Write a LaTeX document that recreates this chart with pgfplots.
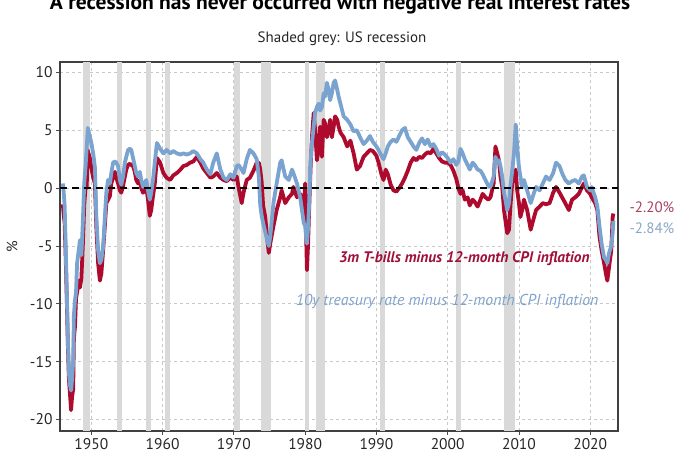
\documentclass[border=0pt]{standalone}
\usepackage{pgfplots}
\pgfplotsset{compat=1.18}
\usepackage{fontspec}
\setmainfont{PT Sans}
\definecolor{serred}{HTML}{AE0A2E}
\definecolor{serblue}{HTML}{7BA3CF}
\definecolor{labred}{HTML}{A0103A}
\definecolor{labblue}{HTML}{7FA3CC}
\definecolor{endred}{HTML}{A8405E}
\definecolor{endblue}{HTML}{8AA6C6}
\definecolor{band}{HTML}{D9D9D9}
\definecolor{gridc}{HTML}{C8C8C8}

\begin{document}
\begin{tikzpicture}[x=1pt,y=1pt]
\useasboundingbox (0,0) rectangle (700,470);
\node[anchor=base, font=\fontsize{21.5}{24}\selectfont\bfseries] at (340,460) {A recession has never occurred with negative real interest rates};
\node[anchor=base, font=\fontsize{15}{18}\selectfont, text=black!85] at (342,427) {Shaded grey: US recession};
\begin{axis}[
  at={(60pt,39pt)}, anchor=south west,
  scale only axis, width=558pt, height=369pt,
  xmin=1945.6, xmax=2023.9, ymin=-21, ymax=10.9,
  xtick={1950,1960,...,2020}, ytick={-20,-15,...,10},
  /pgf/number format/1000 sep={},
  /pgf/number format/assume math mode=true,
  tick label style={font=\fontsize{15.5}{18}\selectfont, text=black!85},
  tick align=outside, tick pos=left, major tick length=4pt,
  tick style={draw=black!70, line width=0.8pt},
  axis line style={draw=black!75, line width=1.2pt},
  grid=major, major grid style={draw=gridc, line width=0.8pt, dash pattern=on 3pt off 3pt},
  clip=true,
]
% recession bands
\addplot[fill=band, draw=none] coordinates {(1948.85,-21) (1948.85,10.9) (1949.85,10.9) (1949.85,-21)} -- cycle;
\addplot[fill=band, draw=none] coordinates {(1953.55,-21) (1953.55,10.9) (1954.35,10.9) (1954.35,-21)} -- cycle;
\addplot[fill=band, draw=none] coordinates {(1957.6,-21) (1957.6,10.9) (1958.3,10.9) (1958.3,-21)} -- cycle;
\addplot[fill=band, draw=none] coordinates {(1960.3,-21) (1960.3,10.9) (1961.1,10.9) (1961.1,-21)} -- cycle;
\addplot[fill=band, draw=none] coordinates {(1969.95,-21) (1969.95,10.9) (1970.9,10.9) (1970.9,-21)} -- cycle;
\addplot[fill=band, draw=none] coordinates {(1973.85,-21) (1973.85,10.9) (1975.2,10.9) (1975.2,-21)} -- cycle;
\addplot[fill=band, draw=none] coordinates {(1980.0,-21) (1980.0,10.9) (1980.5,10.9) (1980.5,-21)} -- cycle;
\addplot[fill=band, draw=none] coordinates {(1981.5,-21) (1981.5,10.9) (1982.85,10.9) (1982.85,-21)} -- cycle;
\addplot[fill=band, draw=none] coordinates {(1990.5,-21) (1990.5,10.9) (1991.2,10.9) (1991.2,-21)} -- cycle;
\addplot[fill=band, draw=none] coordinates {(2001.2,-21) (2001.2,10.9) (2001.9,10.9) (2001.9,-21)} -- cycle;
\addplot[fill=band, draw=none] coordinates {(2007.95,-21) (2007.95,10.9) (2009.5,10.9) (2009.5,-21)} -- cycle;
% 3m T-bills minus CPI
\addplot[serred, line width=3.8pt, line join=round] table {
1946.0 -1.4
1946.1 -2.2
1946.25 -3.0
1946.4 -6.0
1946.55 -9.5
1946.7 -13.5
1946.85 -16.5
1947.0 -17.8
1947.15 -19.2
1947.3 -18.0
1947.45 -17.4
1947.55 -13.0
1947.7 -12.0
1947.85 -9.5
1948.0 -9.0
1948.2 -8.0
1948.4 -8.6
1948.6 -7.8
1948.8 -5.0
1949.0 -1.5
1949.2 0.2
1949.35 0.0
1949.45 3.3
1949.6 3.0
1949.8 2.6
1950.0 1.7
1950.3 0.8
1950.5 0.4
1950.7 -3.4
1950.95 -6.5
1951.2 -8.0
1951.4 -7.4
1951.65 -5.4
1951.9 -3.2
1952.1 -1.3
1952.35 -1.0
1952.6 -0.7
1952.8 0.4
1953.05 0.9
1953.3 1.4
1953.5 0.9
1953.75 0.4
1954.0 -0.2
1954.2 -0.4
1954.45 0.2
1954.7 1.0
1954.9 1.6
1955.15 2.0
1955.4 2.1
1955.6 2.0
1955.85 1.9
1956.1 1.4
1956.3 0.7
1956.55 0.4
1956.8 0.7
1957.0 0.0
1957.25 -0.4
1957.5 -0.2
1957.7 0.1
1957.95 -1.0
1958.2 -2.4
1958.4 -1.9
1958.65 -0.7
1958.9 0.4
1959.2 2.6
1959.65 2.2
1960.1 1.3
1960.55 0.9
1961.05 0.7
1961.5 1.1
1962.0 1.3
1962.5 1.6
1962.9 1.9
1963.4 2.0
1963.85 2.2
1964.3 2.3
1964.8 2.7
1965.3 2.2
1965.7 1.7
1966.2 1.3
1966.7 0.9
1967.1 1.0
1967.6 1.3
1968.1 0.9
1968.55 0.7
1969.0 0.6
1969.5 0.9
1969.95 0.7
1970.4 1.0
1970.65 0.1
1971.1 -1.3
1971.35 -0.4
1971.8 0.7
1972.25 0.9
1972.75 1.5
1973.2 2.2
1973.5 2.2
1973.7 1.6
1973.9 0.5
1974.1 -1.5
1974.4 -2.5
1974.7 -4.5
1974.9 -5.6
1975.1 -4.8
1975.55 -3.3
1976.0 -1.9
1976.5 -0.8
1976.7 -0.2
1977.2 -1.3
1977.7 -0.8
1978.15 -0.5
1978.35 0.1
1978.85 -0.8
1979.3 -0.5
1979.55 -1.1
1979.8 -1.9
1980.0 0.4
1980.1 -3.0
1980.25 -7.1
1980.4 -5.0
1980.55 -2.0
1980.75 1.6
1980.95 4.4
1981.2 6.5
1981.4 5.0
1981.65 2.4
1981.9 3.6
1982.1 5.3
1982.35 2.7
1982.6 5.9
1982.8 5.6
1983.05 4.4
1983.3 5.0
1983.5 5.9
1983.75 4.4
1984.0 5.3
1984.2 6.2
1984.5 5.9
1984.7 5.3
1984.95 4.8
1985.4 4.4
1985.9 3.6
1986.35 4.1
1986.8 3.0
1987.25 1.6
1987.7 1.9
1988.2 2.7
1988.65 3.0
1989.1 3.3
1989.5 3.2
1990.0 2.8
1990.3 2.2
1990.7 1.2
1991.0 0.7
1991.3 1.6
1991.6 1.2
1992.0 0.3
1992.4 -0.2
1992.8 -0.3
1993.2 0.0
1993.6 0.4
1994.0 0.9
1994.4 1.5
1994.8 2.2
1995.2 2.6
1995.6 2.4
1996.0 2.7
1996.4 2.6
1996.8 2.9
1997.2 3.1
1997.6 3.0
1998.0 3.4
1998.4 3.0
1998.8 2.6
1999.2 2.3
1999.6 2.2
2000.0 2.2
2000.4 2.0
2000.8 1.5
2001.2 0.8
2001.5 0.0
2001.8 -0.5
2002.1 -0.2
2002.4 -1.0
2002.8 -0.8
2003.1 -1.5
2003.5 -1.0
2003.8 -1.2
2004.2 -1.6
2004.6 -1.0
2004.9 -0.5
2005.3 -0.8
2005.7 -1.0
2006.0 -0.8
2006.45 0.4
2006.7 3.6
2006.95 3.0
2007.2 2.4
2007.4 1.0
2007.65 0.1
2007.9 -1.9
2008.1 -2.8
2008.35 -3.9
2008.6 -3.6
2008.8 -1.6
2009.05 0.4
2009.3 1.0
2009.55 1.6
2009.75 -0.2
2010.0 -1.3
2010.2 -2.5
2010.45 -1.9
2010.7 -1.0
2011.15 -1.9
2011.65 -3.6
2011.9 -3.0
2012.4 -1.9
2012.9 -1.6
2013.35 -1.3
2013.8 -1.4
2014.3 -1.3
2014.8 -0.4
2015.2 0.1
2015.7 -0.4
2016.05 -0.8
2016.5 -1.3
2017.0 -1.9
2017.45 -1.0
2017.9 -0.8
2018.4 -0.5
2018.85 0.1
2019.1 0.4
2019.55 -0.2
2020.0 -0.5
2020.2 -0.8
2020.7 -1.3
2021.0 -1.9
2021.3 -4.2
2021.6 -5.4
2021.95 -6.5
2022.2 -7.4
2022.4 -8.0
2022.65 -6.8
2022.95 -5.4
2023.15 -2.5
2023.25 -2.2
};
% 10y treasury minus CPI
\addplot[serblue, line width=3.8pt, line join=round] table {
1946.0 0.4
1946.1 -0.2
1946.25 -1.5
1946.4 -5.0
1946.55 -9.0
1946.7 -13.0
1946.85 -16.0
1947.0 -17.0
1947.15 -17.5
1947.3 -16.5
1947.45 -15.0
1947.55 -11.0
1947.7 -9.7
1947.85 -9.0
1948.0 -6.5
1948.2 -5.5
1948.4 -4.5
1948.6 -5.8
1948.8 -3.0
1949.0 0.4
1949.2 2.0
1949.35 3.5
1949.5 5.2
1949.65 4.8
1949.8 4.4
1950.0 3.9
1950.3 2.8
1950.5 1.8
1950.7 -2.5
1950.95 -5.4
1951.2 -6.5
1951.4 -6.2
1951.65 -5.1
1951.9 -2.5
1952.1 -0.4
1952.35 0.7
1952.6 0.4
1952.8 1.3
1953.05 2.2
1953.3 2.3
1953.5 2.2
1953.75 1.9
1954.0 0.7
1954.2 0.3
1954.45 1.0
1954.7 2.2
1954.9 2.7
1955.15 3.3
1955.4 3.4
1955.6 3.3
1955.85 2.6
1956.1 1.9
1956.3 1.3
1956.55 1.0
1956.8 1.4
1957.0 0.7
1957.25 0.1
1957.5 0.4
1957.7 0.7
1957.95 -0.2
1958.2 -1.0
1958.4 -0.4
1958.65 0.7
1958.9 2.2
1959.2 3.9
1959.65 3.4
1960.1 3.0
1960.55 3.3
1961.05 3.0
1961.5 3.2
1962.0 3.0
1962.5 2.9
1962.9 3.0
1963.4 2.9
1963.85 3.0
1964.3 3.2
1964.8 3.0
1965.3 2.5
1965.7 2.2
1966.2 1.6
1966.7 1.2
1967.1 2.2
1967.6 3.0
1968.1 1.6
1968.55 0.9
1969.0 0.7
1969.5 1.2
1969.95 0.9
1970.4 1.9
1970.65 2.0
1971.1 1.6
1971.35 1.3
1971.8 2.5
1972.25 3.3
1972.75 3.0
1973.2 2.5
1973.5 1.0
1973.7 -1.5
1973.9 -2.4
1974.1 -3.0
1974.4 -3.8
1974.7 -4.6
1974.9 -5.0
1975.1 -4.2
1975.55 -1.3
1976.0 0.4
1976.5 2.2
1976.7 2.4
1977.2 1.0
1977.7 0.7
1978.15 1.6
1978.35 1.3
1978.85 0.4
1979.3 -0.8
1979.55 -1.9
1979.8 -3.0
1980.0 -3.3
1980.1 -4.0
1980.25 -4.8
1980.4 -3.5
1980.55 -1.5
1980.75 2.2
1980.95 3.9
1981.2 5.3
1981.4 6.5
1981.65 7.0
1981.9 7.3
1982.1 6.7
1982.35 7.0
1982.6 8.2
1982.8 7.9
1983.05 9.1
1983.3 8.5
1983.5 7.6
1983.75 8.2
1984.0 9.1
1984.2 9.3
1984.5 8.5
1984.7 7.9
1984.95 7.3
1985.4 6.2
1985.9 5.9
1986.35 5.5
1986.8 4.9
1987.25 5.0
1987.7 4.4
1988.2 3.8
1988.65 4.1
1989.1 4.5
1989.5 4.0
1990.0 3.6
1990.3 3.3
1990.7 2.8
1991.0 2.5
1991.3 3.0
1991.6 3.6
1992.0 4.0
1992.4 4.2
1992.8 4.0
1993.2 4.5
1993.6 5.0
1994.0 5.2
1994.4 4.4
1994.8 4.0
1995.2 3.6
1995.6 3.3
1996.0 3.9
1996.4 4.3
1996.8 3.8
1997.2 4.2
1997.6 3.6
1998.0 3.8
1998.4 3.4
1998.8 2.8
1999.2 3.1
1999.6 2.9
2000.0 2.6
2000.4 2.2
2000.8 2.5
2001.2 2.0
2001.5 2.3
2001.8 3.4
2002.1 3.0
2002.4 2.5
2002.8 2.0
2003.1 1.6
2003.5 2.2
2003.8 2.0
2004.2 1.6
2004.6 1.5
2004.9 1.2
2005.3 0.7
2005.7 0.2
2006.0 0.1
2006.45 1.0
2006.7 2.7
2006.95 2.2
2007.2 2.4
2007.4 1.9
2007.65 1.0
2007.9 -0.4
2008.1 -1.0
2008.35 -1.9
2008.6 -1.3
2008.8 0.1
2009.05 1.5
2009.3 3.0
2009.55 5.5
2009.75 3.6
2010.0 1.8
2010.2 1.0
2010.45 0.1
2010.7 0.7
2011.15 -0.2
2011.65 -1.3
2011.9 -0.8
2012.4 0.1
2012.9 -0.2
2013.35 0.4
2013.8 1.0
2014.3 0.7
2014.8 1.3
2015.2 2.2
2015.7 1.9
2016.05 1.3
2016.5 0.7
2017.0 0.4
2017.45 0.6
2017.9 0.7
2018.4 0.4
2018.85 1.0
2019.1 1.1
2019.55 0.1
2020.0 -0.2
2020.2 0.1
2020.7 -0.8
2021.0 -1.6
2021.3 -3.3
2021.6 -4.8
2021.95 -6.0
2022.2 -6.2
2022.4 -6.5
2022.65 -5.6
2022.95 -5.0
2023.15 -3.9
2023.25 -2.84
};
% zero line
\addplot[black, line width=2pt, dash pattern=on 7pt off 5pt] coordinates {(1945.6,0) (2023.9,0)};
\end{axis}
% y label
\node[rotate=90, font=\fontsize{15}{18}\selectfont, text=black!85] at (12,223) {\%};
% series labels
\node[anchor=base east, font=\fontsize{15.3}{18}\selectfont\bfseries\itshape, text=labred] at (593,207) {3m T-bills minus 12-month CPI inflation};
\node[anchor=base east, font=\fontsize{15.8}{18}\selectfont\itshape, text=labblue] at (602,164) {10y treasury rate minus 12-month CPI inflation};
% end values
\node[anchor=west, font=\fontsize{15}{18}\selectfont, text=endred] at (626,263) {-2.20\%};
\node[anchor=west, font=\fontsize{15}{18}\selectfont, text=endblue] at (626,242) {-2.84\%};
\end{tikzpicture}
\end{document}
